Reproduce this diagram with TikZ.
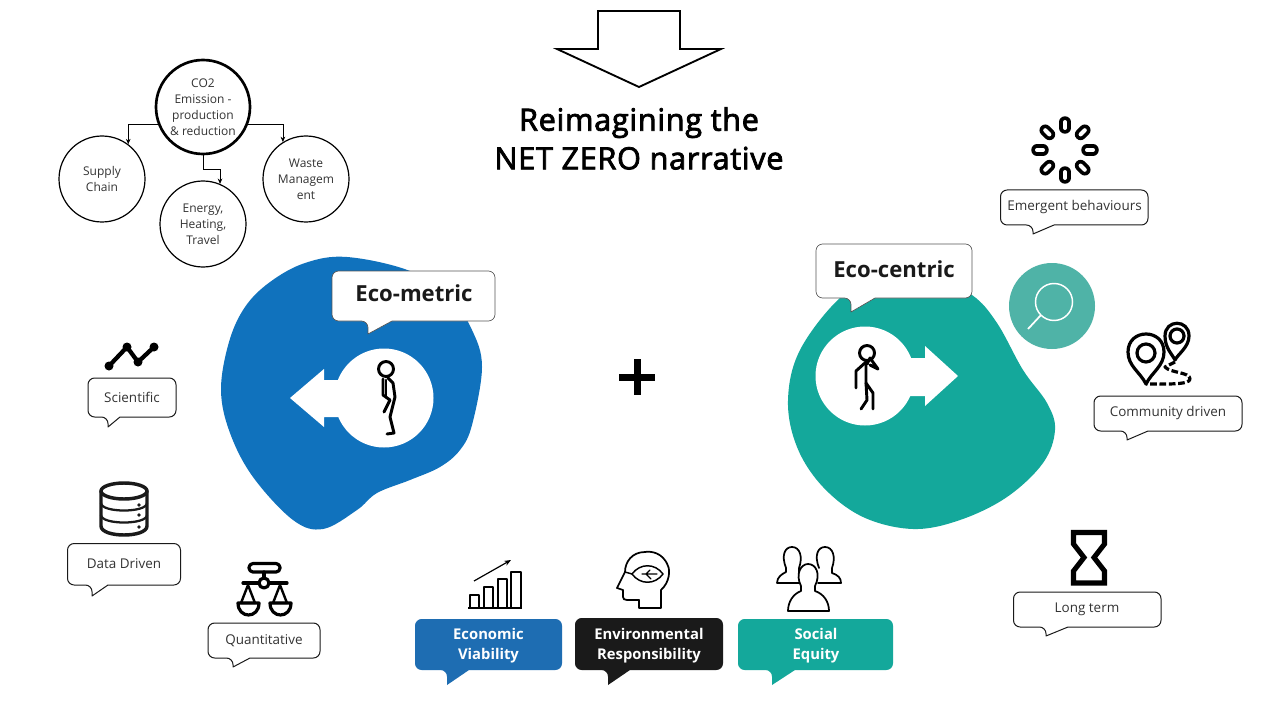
\documentclass[tikz,border=0pt]{standalone}
\usepackage{fontspec}
\setmainfont{Open Sans}
\newfontfamily\titlefont[LetterSpace=2.2,FakeBold=2.6]{Open Sans}
\usetikzlibrary{arrows.meta}
\definecolor{ecoblue}{HTML}{1072BD}
\definecolor{ecoblueb}{HTML}{1E6DB2}
\definecolor{ecogreen}{HTML}{14A89B}
\definecolor{lenscol}{HTML}{4FB3A7}
\definecolor{inkblack}{HTML}{1A1A1A}
\definecolor{txt}{HTML}{333333}
\definecolor{softedge}{HTML}{555555}
\tikzset{
  lineb/.style={draw=inkblack,line width=0.75pt,fill=white,line join=round},
  lineg/.style={draw=softedge,line width=0.5pt,fill=white,line join=round},
  labeltxt/.style={font=\fontsize{10.1}{12}\selectfont,text=txt},
  bigtxt/.style={font=\fontsize{16.6}{20}\selectfont\bfseries,text=inkblack},
  pillarb/.style={fill=ecoblueb},
  pillark/.style={fill=inkblack},
  pillarg/.style={fill=ecogreen},
  pillartxt/.style={font=\fontsize{11.1}{15}\selectfont\bfseries,text=white,align=center},
  circ/.style={circle,draw=black,line width=0.9pt,fill=white,minimum size=64.5pt,inner sep=0pt,align=center,font=\fontsize{9}{12}\selectfont,text=txt},
  conn/.style={draw=black,line width=0.6pt,-{Stealth[length=4pt,width=3.5pt]}},
  ico/.style={draw=black,line width=2.4pt,line join=round,line cap=round},
  icothin/.style={draw=black,line width=1.3pt,line join=round,line cap=round},
  person/.style={draw=black,line width=2.2pt,line join=round,line cap=round}
}
% x1 y1 x2 y2 tailx tipy backx style
\newcommand{\bub}[8]{\path[#8,rounded corners=5pt] (#7,#4) -- (#3,#4) -- (#3,#2) -- (#1,#2) -- (#1,#4) -- (#5,#4) [sharp corners] -- (#5,#6) -- (#7,#4) -- cycle;}
\begin{document}
\begin{tikzpicture}[x=0.75pt,y=-0.75pt]
\useasboundingbox (0,0) rectangle (1280,720);
\fill[white] (0,0) rectangle (1280,720);

% top arrow and title
\draw[draw=black,line width=1.4pt,fill=white,line join=miter] (598,11)--(680,11)--(680,49)--(721,49)--(639,87)--(557,49)--(598,49)--cycle;
\node[font=\fontsize{23}{29}\selectfont\titlefont,align=center,text=black] (title) at (639,138.5) {Reimagining the\\NET ZERO narrative};

% tree
\node[circ,line width=2pt,minimum size=70.5pt] (co2) at (203,107) {CO2\\Emission -\\production\\\&\ reduction};
\node[circ] (supply) at (102,179) {Supply\\Chain};
\node[circ] (energy) at (203,224) {Energy,\\Heating,\\Travel};
\node[circ] (waste) at (306,179) {Waste\\Managem\\ent};
\draw[conn] (co2.201) -| (supply.53);
\draw[conn] (co2.339) -| (waste.122);
\draw[conn] (co2.south) -- ++(0,14) -| (energy.67);

% blue blob
\fill[ecoblue] plot[smooth cycle,tension=0.6] coordinates {(347,257) (410,271) (450,298) (472,330) (482,367) (472,425) (460,450) (440,467) (410,480) (377,493) (357,510) (323,529) (293,520) (253,477) (230,433) (221,390) (229,342) (245,307) (270,282) (305,263)};
\fill[white] (384,398) circle (49.5);
\fill[white] (290,398)--(324,369)--(324,380)--(350,380)--(350,417)--(324,417)--(324,427)--cycle;
% blue walker
\draw[person] (386,369) circle (7.5);
\draw[person] (388,378) -- (393,383) -- (395,397) -- (390,417) -- (394,433) -- (387,434);
\draw[person] (383,379) -- (383,395) -- (390,400) -- (384,412);
\draw[person] (386,380) -- (386,397);

% green blob
\fill[ecogreen] plot[smooth cycle,tension=0.6] coordinates {(930,275) (972,295) (997,323) (1023,370) (1047,403) (1055,430) (1043,463) (1007,497) (960,520) (913,529) (863,517) (823,487) (797,447) (788,400) (800,350) (840,298) (880,278)};
\fill[white] (865,376) circle (49.5);
\fill[white] (958,376)--(925,346)--(925,358)--(895,358)--(895,396)--(925,396)--(925,406)--cycle;
% green walker
\draw[person] (867,353) circle (7.5);
\draw[person] (866,362) -- (866,383) -- (873,393) -- (873,409);
\draw[person] (866,383) -- (867,400) -- (861,409);
\draw[person] (866,362) -- (856,371) -- (856,388);
\draw[person] (867,364) -- (870,358) -- (878,369) -- (870,365);

% lens
\fill[lenscol] (1052,306) circle (43);
\draw[white,line width=1.1pt] (1054,302) circle (18.5);
\draw[white,line width=1.3pt] (1041,315) -- (1028,329);

% plus
\fill[black] (619,373.5) rectangle (655,380.5);
\fill[black] (633.5,359) rectangle (640.5,395);

% big bubbles
\bub{332}{271}{495}{321}{368}{334}{392}{lineg}
\node[bigtxt] (ecom) at (414,293) {Eco-metric};
\bub{816}{244}{972}{298}{851}{312}{875}{lineg}
\node[bigtxt] (ecoc) at (894,269) {Eco-centric};

% left bubbles
\bub{88}{378}{176}{417}{108}{427}{120}{lineb}
\node[labeltxt] (sci) at (132,397) {Scientific};
\bub{67.5}{543.5}{180.5}{585}{92}{596}{108}{lineb}
\node[labeltxt] (data) at (124,564) {Data Driven};
\bub{208}{623}{320}{658}{233}{667}{250}{lineb}
\node[labeltxt] (quant) at (264,641) {Quantitative};

% right bubbles
\bub{1000.5}{190}{1148}{225}{1033}{234}{1054}{lineb}
\node[labeltxt] (emerg) at (1074.5,207.5) {Emergent behaviours};
\bub{1094}{396}{1242}{431}{1127}{440}{1148}{lineb}
\node[labeltxt] (comm) at (1168,413) {Community driven};
\bub{1013.5}{592}{1161}{627}{1046}{636}{1068}{lineb}
\node[labeltxt] (long) at (1087,609.5) {Long term};

% pillars
\bub{415}{619}{562}{670}{447}{685}{469}{pillarb}
\node[pillartxt] (econ) at (488.5,645.5) {Economic\\Viability};
\bub{575}{618}{723}{670}{608}{685}{630}{pillark}
\node[pillartxt] (env) at (649,645.5) {Environmental\\Responsibility};
\bub{738}{619}{893}{670}{772}{685}{795}{pillarg}
\node[pillartxt] (soc) at (816,645.5) {Social\\Equity};

% chart icon
\draw[ico,line width=3.2pt] (109,366)--(127,347)--(138,362)--(154,347);
\fill[black] (109,366) circle (4.5) (127,347) circle (4.5) (138,362) circle (4.5) (154,347) circle (4.5);

% database icon
\draw[ico,draw=inkblack,line width=2.6pt] (101,491)--(101,526) .. controls (101,538) and (147,538) .. (147,526) -- (147,491);
\draw[ico,draw=inkblack,line width=2.6pt] (124,491) ellipse (23 and 8);
\draw[ico,draw=inkblack,line width=1.7pt] (101,503) .. controls (101,513) and (147,513) .. (147,503);
\draw[ico,draw=inkblack,line width=1.7pt] (101,515) .. controls (101,525) and (147,525) .. (147,515);
\fill[inkblack] (139,505) circle (1.8) (139,515) circle (1.8) (139,527) circle (1.8);

% scales icon
\draw[ico,rounded corners=3pt] (249,563.5) rectangle (280,572);
\draw[ico] (264,572)--(264,578);
\draw[ico] (243,583)--(287,583);
\draw[ico,fill=white] (264,583) circle (5);
\draw[ico,line width=1.8pt] (248,585)--(241,603)--(255,603)--cycle;
\draw[ico,line width=1.8pt] (280,585)--(273,603)--(287,603)--cycle;
\draw[ico] (238,603)--(259,603) .. controls (259,619) and (238,619) .. (238,603) -- cycle;
\draw[ico] (270,603)--(291,603) .. controls (291,619) and (270,619) .. (270,603) -- cycle;

% spinner icon
\foreach \a in {0,45,...,315}{
  \draw[black,line width=8.6pt,line cap=round] ([shift={(\a:22)}]1065,150) -- ([shift={(\a:28)}]1065,150);
  \draw[white,line width=3pt,line cap=round] ([shift={(\a:22)}]1065,150) -- ([shift={(\a:28)}]1065,150);
}

% pins icon
\draw[ico] (1146,384) .. controls (1140,372) and (1128,366) .. (1128,352) .. controls (1128,328) and (1164,328) .. (1164,352) .. controls (1164,366) and (1152,372) .. (1146,384) -- cycle;
\draw[ico] (1146,353) circle (9);
\draw[ico] (1175,360) .. controls (1172,354) and (1165,348) .. (1165,336) .. controls (1165,319) and (1189,319) .. (1189,336) .. controls (1189,347) and (1178,354) .. (1175,360) -- cycle;
\draw[ico] (1177,336) circle (7);
\draw[ico,dash pattern=on 5pt off 2pt,line cap=butt] (1175,362) -- (1165,367) .. controls (1170,373) and (1190,372) .. (1190,379) .. controls (1190,385) and (1165,384) .. (1146,384);

% hourglass icon
\draw[draw=black,line width=3.8pt,line join=miter] (1073.5,532.5)--(1104.5,532.5)--(1104.5,544)--(1094,557.5)--(1104.5,571)--(1104.5,583)--(1073.5,583)--(1073.5,571)--(1084,557.5)--(1073.5,544)--cycle;

% growth icon
\draw[icothin,line cap=butt] (468,608)--(522,608);
\draw[icothin,line cap=butt] (470,608)--(470,595)--(479,595)--(479,608);
\draw[icothin,line cap=butt] (484,608)--(484,587)--(493,587)--(493,608);
\draw[icothin,line cap=butt] (498,608)--(498,579)--(507,579)--(507,608);
\draw[icothin,line cap=butt] (511,608)--(511,572)--(521,572)--(521,608);
\draw[line width=0.9pt,-{Stealth[length=5pt,width=4pt]}] (474,581)--(511,560);

% head icon
\draw[icothin] (639,608)--(661,608)--(661,590) .. controls (670,582) and (670,570) .. (668,566) .. controls (663,552) and (650,551) .. (645,552) .. controls (632,552) and (625,562) .. (625,572) -- (617,588) -- (623,590) -- (623,597) .. controls (623,601) and (628,600) .. (639,600) -- cycle;
\draw[icothin,line width=1.1pt] (625,572)--(632,574);
\draw[icothin,line width=1.1pt] (632,574) .. controls (640,563) and (655,563) .. (663,574) .. controls (655,585) and (640,585) .. (632,574) -- cycle;
\draw[icothin,line width=1pt] (642,574)--(657,574) (646,574)--(650,570) (646,574)--(651,579);

% people icon
\draw[icothin] (786,568) .. controls (781,555) and (785,547) .. (792,547) .. controls (800,547) and (803,557) .. (799,568) -- (799,573) -- (801,583) -- (777,583) .. controls (777,577) and (782,574) .. (786,572) -- cycle;
\draw[icothin] (819,568) .. controls (814,555) and (818,547) .. (825,547) .. controls (833,547) and (836,557) .. (832,568) -- (832,573) .. controls (838,575) and (841,578) .. (841,583) -- (818,583);
\draw[icothin,fill=white] (801,586) .. controls (795,574) and (801,564) .. (808,564) .. controls (816,564) and (821,574) .. (815,586) -- (815,591) .. controls (824,594) and (829,602) .. (829,611) -- (788,611) .. controls (788,602) and (793,594) .. (801,591) -- cycle;
\end{tikzpicture}
\end{document}
